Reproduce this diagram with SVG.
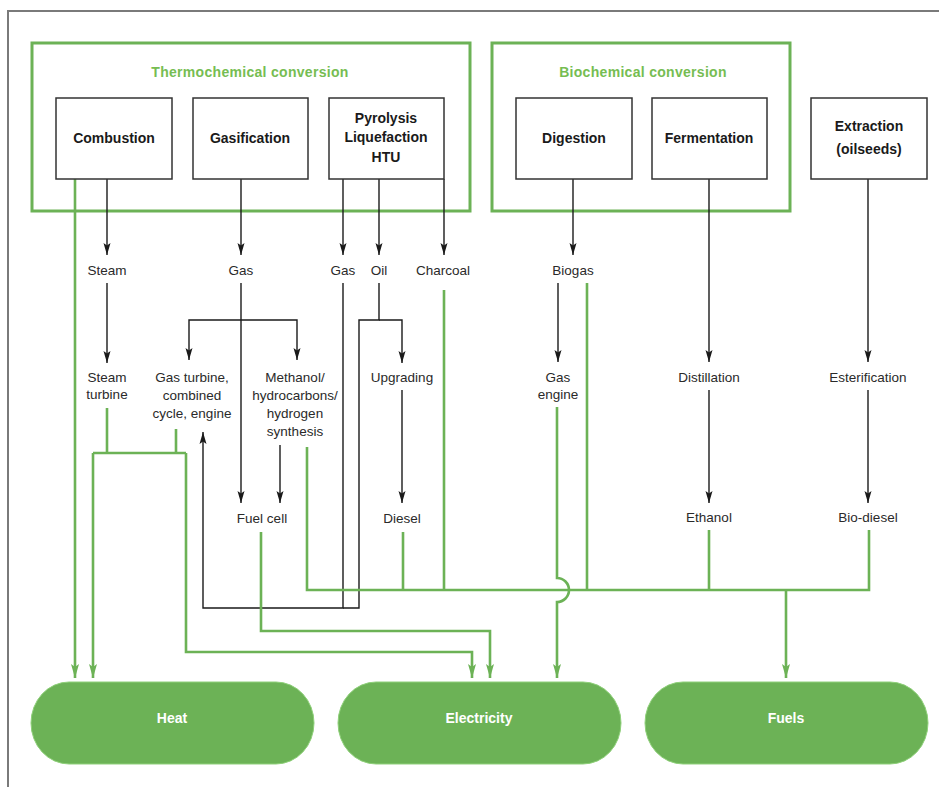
<svg xmlns="http://www.w3.org/2000/svg" width="939" height="787" viewBox="0 0 939 787">
<defs>
<style>
.frame{fill:none;stroke:#7a7a7a;stroke-width:2}
.grp{fill:none;stroke:#6cb256;stroke-width:3}
.box{fill:#fff;stroke:#333;stroke-width:1.5}
.pill{fill:#6cb256;stroke:#8fd07a;stroke-width:1}
.title{font-family:"Liberation Sans",Arial,sans-serif;font-size:14px;font-weight:bold;fill:#76bd52;text-anchor:middle;dominant-baseline:central;letter-spacing:0.3px}
.bt{font-family:"Liberation Sans",Arial,sans-serif;font-size:14px;font-weight:bold;fill:#1a1a1a;text-anchor:middle;dominant-baseline:central}
.lb{font-family:"Liberation Sans",Arial,sans-serif;font-size:13.5px;fill:#2a2a2a;text-anchor:middle;dominant-baseline:central}
.pt{font-family:"Liberation Sans",Arial,sans-serif;font-size:14px;font-weight:bold;fill:#fff;text-anchor:middle;dominant-baseline:central}
.k{fill:none;stroke:#1a1a1a;stroke-width:1.4}
.ka{fill:none;stroke:#1a1a1a;stroke-width:1.4;marker-end:url(#ak)}
.g{fill:none;stroke:#6cb256;stroke-width:2.6}
.ga{fill:none;stroke:#6cb256;stroke-width:2.6;marker-end:url(#ag)}
</style>
<marker id="ak" markerUnits="userSpaceOnUse" markerWidth="13" markerHeight="8" refX="12" refY="3.5" orient="auto" overflow="visible">
<path d="M0,0 L12,3.5 L0,7 L2.5,3.5 z" fill="#1a1a1a"/>
</marker>
<marker id="ag" markerUnits="userSpaceOnUse" markerWidth="15" markerHeight="9" refX="14" refY="4" orient="auto" overflow="visible">
<path d="M0,0 L14,4 L0,8 L3,4 z" fill="#6cb256"/>
</marker>
</defs>
<rect x="0" y="0" width="939" height="787" fill="#fff"/>
<rect class="frame" x="8" y="11" width="1000" height="1000"/>

<g id="thermochemical">
<rect class="grp" x="32" y="43" width="438" height="168"/>
<text class="title" x="250" y="72">Thermochemical conversion</text>
</g>
<g id="biochemical">
<rect class="grp" x="492" y="43" width="298" height="168"/>
<text class="title" x="643" y="72">Biochemical conversion</text>
</g>

<g id="connectors">
<g id="black">
<path class="ka" d="M107,179 V255"/>
<path class="ka" d="M241,179 V255"/>
<path class="ka" d="M343,179 V255"/>
<path class="ka" d="M379,179 V255"/>
<path class="ka" d="M444,179 V255"/>
<path class="ka" d="M573,179 V255"/>
<path class="ka" d="M709,179 V362"/>
<path class="ka" d="M868,179 V362"/>
<path class="ka" d="M107,283 V363"/>
<path class="ka" d="M241,283 V503"/>
<path class="ka" d="M241,320 H189 V360"/>
<path class="ka" d="M241,320 H297 V360"/>
<path class="ka" d="M343,283 V608 H203 V432"/>
<path class="k" d="M379,283 V320 H359 V608 H343"/>
<path class="ka" d="M379,320 H402 V363"/>
<path class="ka" d="M280,445 V503"/>
<path class="ka" d="M402,390 V503"/>
<path class="ka" d="M558,283 V362"/>
<path class="ka" d="M709,390 V503"/>
<path class="ka" d="M868,390 V503"/>
</g>
<g id="green">
<path class="ga" d="M75,179 V678"/>
<path class="g" d="M107,408 V453"/>
<path class="g" d="M176,429 V453"/>
<path class="g" d="M93,453 H186"/>
<path class="ga" d="M93,453 V678"/>
<path class="ga" d="M186,453 V652 H472 V678"/>
<path class="ga" d="M261,532 V631 H490 V678"/>
<path class="g" d="M307,447 V590 H869 V530"/>
<path class="g" d="M403,532 V590"/>
<path class="g" d="M444,290 V590"/>
<path class="g" d="M587,283 V590"/>
<path class="g" d="M709,530 V590"/>
<path class="ga" d="M786,590 V678"/>
<path class="ga" d="M557,407 V578 A12,12 0 0 1 557,602 V678"/>
</g>
</g>

<g id="combustion"><rect class="box" x="56" y="98" width="116" height="81"/><text class="bt" x="114" y="138">Combustion</text></g>
<g id="gasification"><rect class="box" x="193" y="98" width="115" height="81"/><text class="bt" x="250" y="138">Gasification</text></g>
<g id="pyrolysis"><rect class="box" x="329" y="98" width="115" height="81"/><text class="bt" x="386" y="118">Pyrolysis</text><text class="bt" x="386" y="137">Liquefaction</text><text class="bt" x="386" y="157">HTU</text></g>
<g id="digestion"><rect class="box" x="516" y="98" width="116" height="81"/><text class="bt" x="574" y="138">Digestion</text></g>
<g id="fermentation"><rect class="box" x="652" y="98" width="115" height="81"/><text class="bt" x="709" y="138">Fermentation</text></g>
<g id="extraction"><rect class="box" x="811" y="98" width="116" height="81"/><text class="bt" x="869" y="126">Extraction</text><text class="bt" x="869" y="149">(oilseeds)</text></g>

<g id="steam"><text class="lb" x="107" y="270">Steam</text></g>
<g id="gas1"><text class="lb" x="241" y="270">Gas</text></g>
<g id="gas2"><text class="lb" x="343" y="270">Gas</text></g>
<g id="oil"><text class="lb" x="379" y="270">Oil</text></g>
<g id="charcoal"><text class="lb" x="443" y="270">Charcoal</text></g>
<g id="biogas"><text class="lb" x="573" y="270">Biogas</text></g>
<g id="steam-turbine"><text class="lb" x="107" y="377">Steam</text><text class="lb" x="107" y="394">turbine</text></g>
<g id="gas-turbine"><text class="lb" x="192" y="377">Gas turbine,</text><text class="lb" x="192" y="395">combined</text><text class="lb" x="192" y="413">cycle, engine</text></g>
<g id="synthesis"><text class="lb" x="295" y="377">Methanol/</text><text class="lb" x="295" y="395">hydrocarbons/</text><text class="lb" x="295" y="413">hydrogen</text><text class="lb" x="295" y="431">synthesis</text></g>
<g id="upgrading"><text class="lb" x="402" y="377">Upgrading</text></g>
<g id="gas-engine"><text class="lb" x="558" y="377">Gas</text><text class="lb" x="558" y="394">engine</text></g>
<g id="distillation"><text class="lb" x="709" y="377">Distillation</text></g>
<g id="esterification"><text class="lb" x="868" y="377">Esterification</text></g>
<g id="fuel-cell"><text class="lb" x="262" y="518">Fuel cell</text></g>
<g id="diesel"><text class="lb" x="402" y="518">Diesel</text></g>
<g id="ethanol"><text class="lb" x="709" y="517">Ethanol</text></g>
<g id="bio-diesel"><text class="lb" x="868" y="517">Bio-diesel</text></g>

<g id="heat"><rect class="pill" x="31" y="682" width="283" height="82" rx="38" ry="41"/><text class="pt" x="172" y="718">Heat</text></g>
<g id="electricity"><rect class="pill" x="338" y="682" width="283" height="82" rx="38" ry="41"/><text class="pt" x="479" y="718">Electricity</text></g>
<g id="fuels"><rect class="pill" x="645" y="682" width="283" height="82" rx="38" ry="41"/><text class="pt" x="786" y="718">Fuels</text></g>
</svg>
